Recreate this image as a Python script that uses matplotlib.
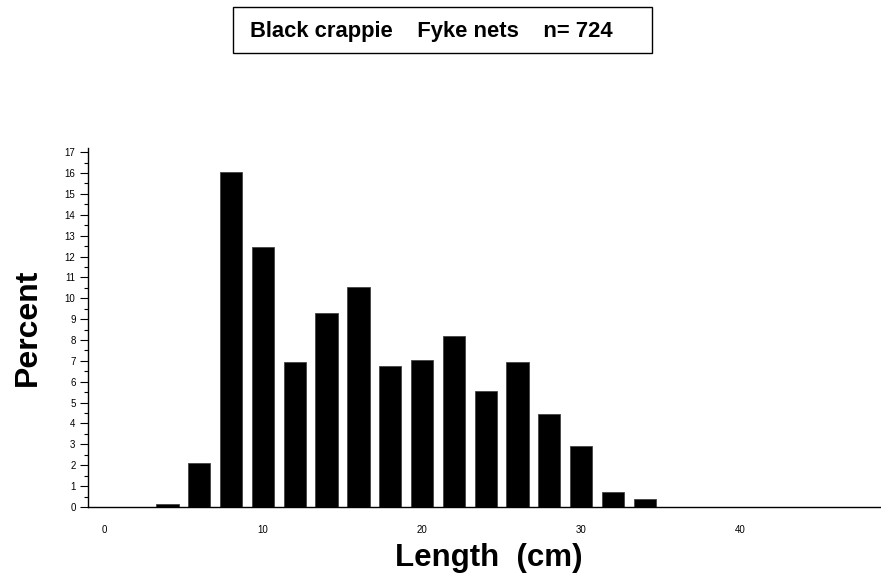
import matplotlib.pyplot as plt
import numpy as np
from matplotlib.ticker import MultipleLocator
from matplotlib.patches import Rectangle

comprimento = [4, 6, 8, 10, 12, 14, 16, 18, 20, 22, 24, 26, 28, 30, 32, 34]
percentual = [0.15, 2.1, 16.05, 12.45, 6.95, 9.3, 10.55, 6.75,
              7.05, 8.2, 5.55, 6.95, 4.45, 2.9, 0.72, 0.38]
xticks = [0, 10, 20, 30, 40]
yticks = list(range(0, 18))

plt.rcParams['font.family'] = ['Liberation Sans', 'DejaVu Sans']

fig = plt.figure(figsize=(8.81, 5.79), dpi=100)
ax = fig.add_axes([0.0999, 0.1244, 0.8991, 0.62])

ax.bar(comprimento, percentual, width=1.4, color='black', edgecolor='#444444', linewidth=0.6)

ax.set_xlim(-1, 48.8)
ax.set_ylim(0, 17.2)
ax.set_xticks(xticks)
ax.set_yticks(yticks)
ax.yaxis.set_minor_locator(MultipleLocator(0.5))
ax.tick_params(axis='x', length=0, pad=13, labelsize=7)
ax.tick_params(axis='y', which='major', length=6, width=0.8, pad=3, labelsize=7)
ax.tick_params(axis='y', which='minor', length=3, width=0.8)

for lado in ['top', 'right']:
    ax.spines[lado].set_visible(False)
ax.spines['left'].set_linewidth(1.0)
ax.spines['bottom'].set_linewidth(1.0)

ax.set_xlabel('Length  (cm)', fontsize=22.5, fontweight='bold')
ax.xaxis.set_label_coords(0.506, -0.142, transform=ax.transAxes)
ax.xaxis.label.set_va('center')
ax.set_ylabel('Percent', fontsize=23, fontweight='bold')
ax.yaxis.set_label_coords(-0.076, 0.50)
ax.yaxis.label.set_va('center')

# caixa do título
fig.patches.append(Rectangle((0.2645, 0.9085), 0.4755, 0.0794, transform=fig.transFigure,
                             facecolor='white', edgecolor='black', linewidth=1.0))
fig.text(0.490, 0.946, 'Black crappie    Fyke nets    n= 724', ha='center', va='center',
         fontsize=15.8, fontweight='bold')

fig.savefig('out.png', dpi=100)
